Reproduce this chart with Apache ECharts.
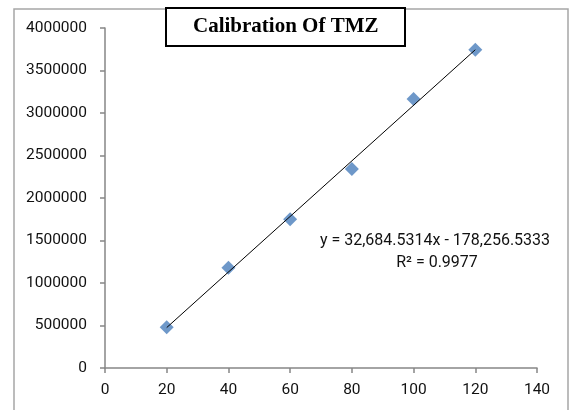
<!DOCTYPE html>
<html><head><meta charset="utf-8">
<script src="https://cdn.jsdelivr.net/npm/echarts@6/dist/echarts.min.js"></script>
<style>html,body{margin:0;padding:0;background:#fff}#c{width:576px;height:410px}</style>
</head><body><div id="c"></div>
<script>
var concentration = [20, 40, 60, 80, 100, 120];
var peakArea = [480000, 1180000, 1750000, 2340000, 3165000, 3745000];
var trendX = [20, 120];
var trendY = [475400, 3744200];
var xTicks = [0, 20, 40, 60, 80, 100, 120, 140];
var yTicks = [0, 500000, 1000000, 1500000, 2000000, 2500000, 3000000, 3500000, 4000000];
var titleText = 'Calibration Of TMZ';
var eqText = 'y = 32,684.5314x - 178,256.5333';
var r2Text = 'R\u00b2 = 0.9977';

var font = 'Roboto, "Liberation Sans", sans-serif';
var chart = echarts.init(document.getElementById('c'));
var axisCommon = {
  axisLine: {show: true, lineStyle: {color: '#868686', width: 1.5}},
  axisTick: {show: true, length: 5, lineStyle: {color: '#868686', width: 1.5}},
  splitLine: {show: false}
};
var labelStyle = {color: '#111', fontSize: 15.5, fontFamily: font, formatter: function (v) { return String(v); }};
chart.setOption({
  animation: false,
  title: {
    text: titleText, left: 166, top: 8,
    padding: [8, 27, 9, 27],
    borderColor: '#000', borderWidth: 2, backgroundColor: '#fff',
    textStyle: {fontFamily: '"Liberation Serif", "Times New Roman", serif', fontWeight: 'bold', fontSize: 21, color: '#000'}
  },
  grid: {left: 105, right: 39, top: 28, bottom: 42, containLabel: false},
  xAxis: Object.assign({type: 'value', min: xTicks[0], max: xTicks[xTicks.length-1], interval: 20}, axisCommon,
    {axisLabel: Object.assign({}, labelStyle, {margin: 14})}),
  yAxis: Object.assign({type: 'value', min: yTicks[0], max: yTicks[yTicks.length-1], interval: 500000}, axisCommon,
    {axisLabel: Object.assign({}, labelStyle, {margin: 18})}),
  graphic: [
    {type: 'rect', shape: {x: 14, y: 9, width: 554, height: 420}, style: {fill: 'none', stroke: '#a6a6a6', lineWidth: 1.5}, z: -10},
    {type: 'text', x: 435, y: 241, style: {text: eqText, fontFamily: font, fontSize: 16, fill: '#111', align: 'center', verticalAlign: 'middle'}},
    {type: 'text', x: 437, y: 263, style: {text: r2Text, fontFamily: font, fontSize: 16, fill: '#111', align: 'center', verticalAlign: 'middle'}}
  ],
  series: [
    {type: 'scatter', symbol: 'diamond', symbolSize: 14, itemStyle: {color: '#4a7ebb'},
     data: concentration.map(function (x, i) { return [x, peakArea[i]]; })},
    {type: 'line', symbol: 'none', lineStyle: {color: '#000', width: 1}, z: 3,
     data: trendX.map(function (x, i) { return [x, trendY[i]]; })}
  ]
});
</script></body></html>
